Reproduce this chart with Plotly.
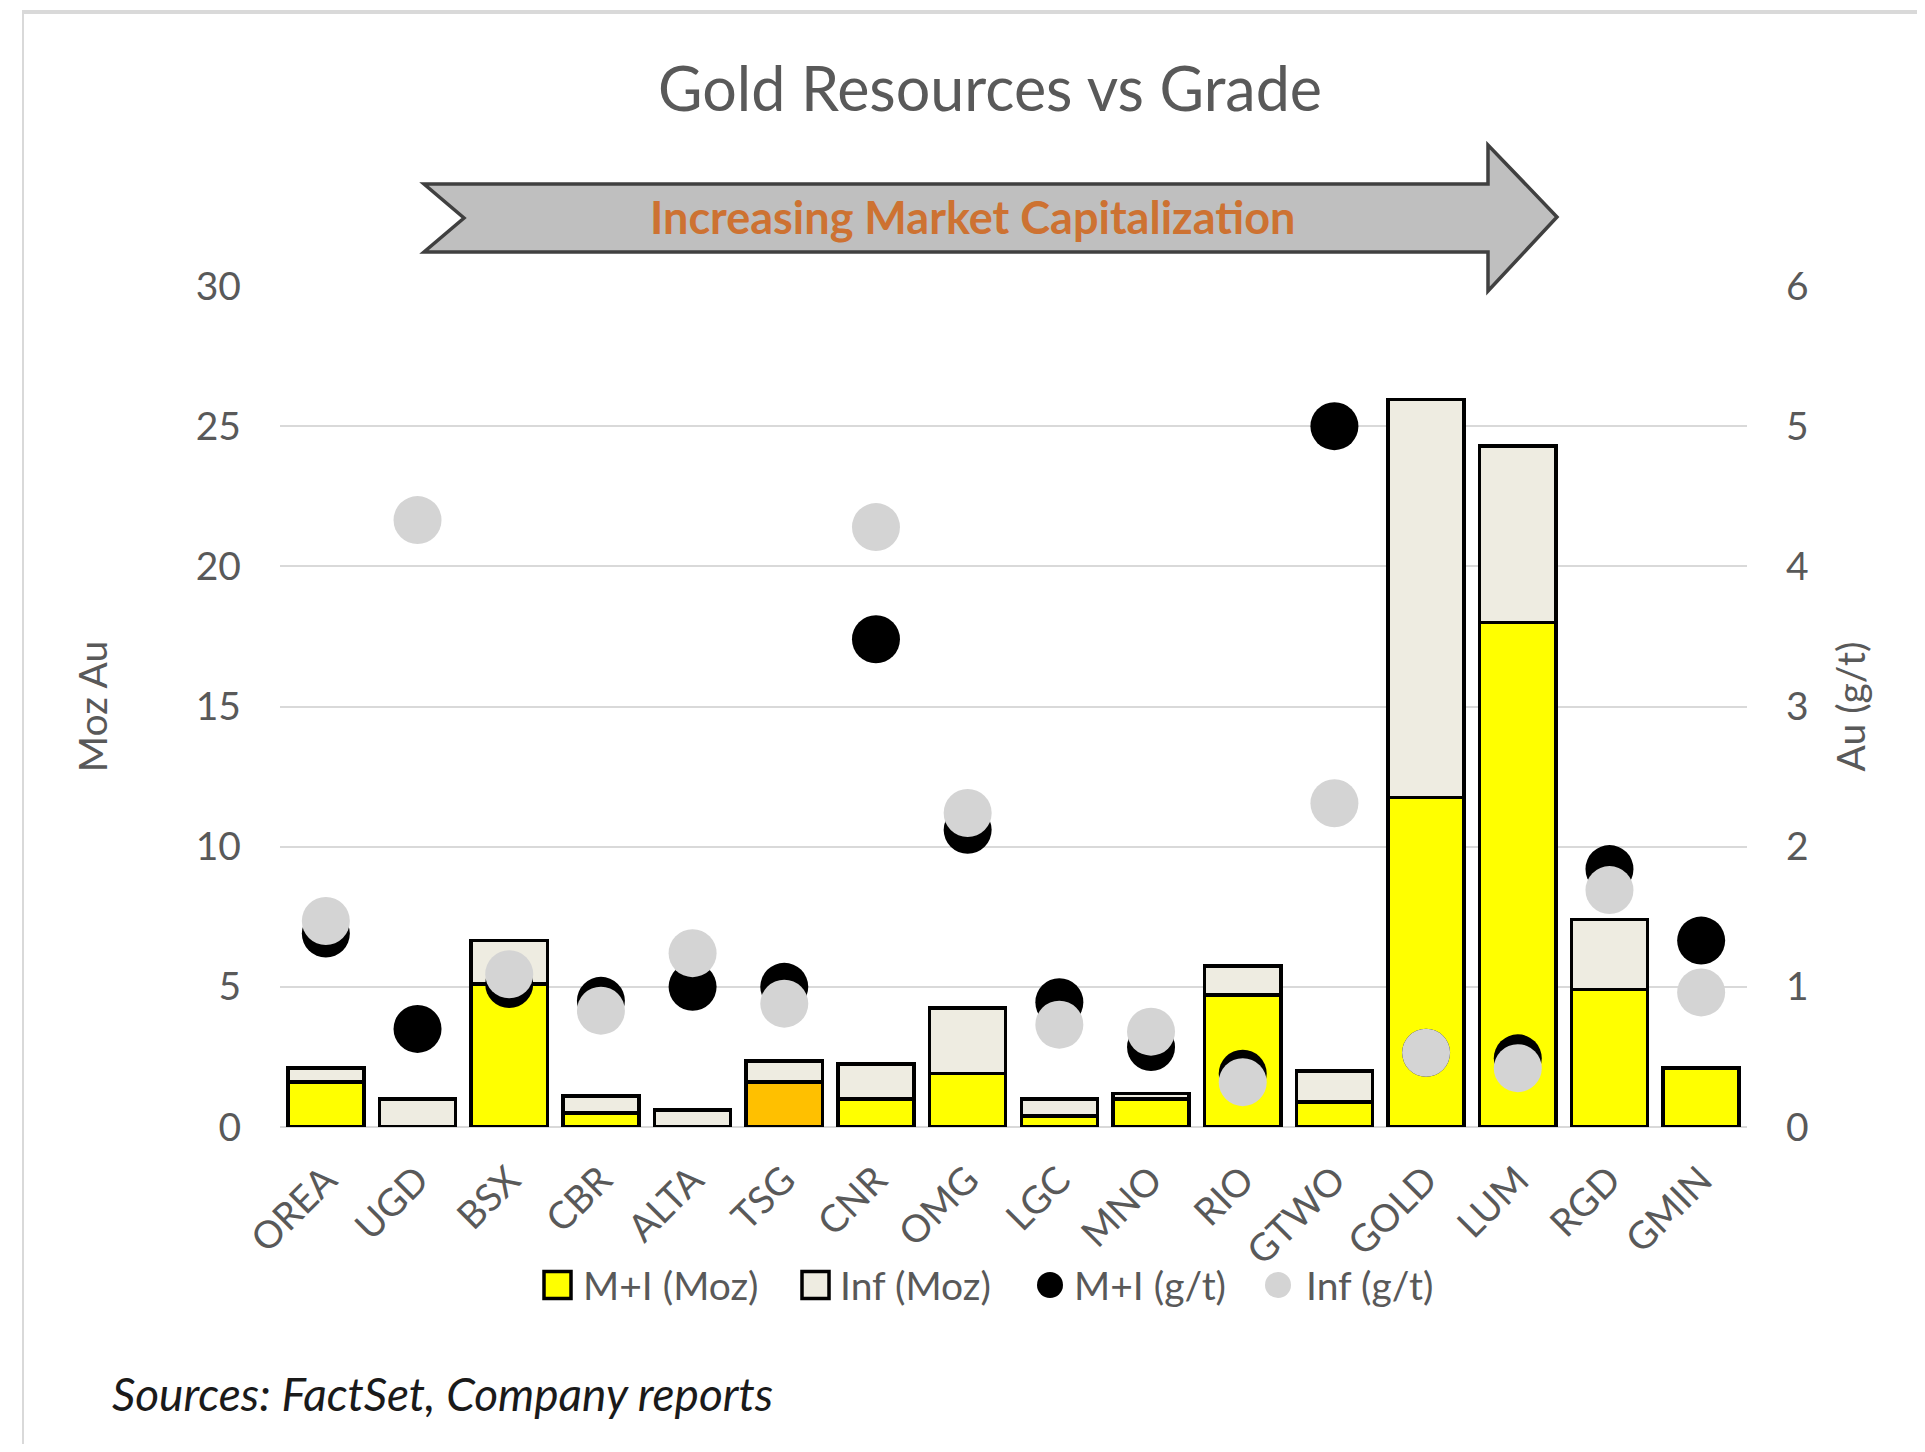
import plotly.graph_objects as go

companies = ["OREA", "UGD", "BSX", "CBR", "ALTA", "TSG", "CNR", "OMG",
             "LGC", "MNO", "RIO", "GTWO", "GOLD", "LUM", "RGD", "GMIN"]
mi_moz = [1.6, 0.0, 5.1, 0.5, 0.0, 1.6, 1.0, 1.9, 0.4, 1.0, 4.7, 0.9, 11.75, 18.0, 4.9, 2.1]
inf_moz = [0.5, 1.0, 1.55, 0.6, 0.6, 0.75, 1.25, 2.35, 0.6, 0.2, 1.05, 1.1, 14.2, 6.3, 2.5, 0.0]
mi_gt = [1.38, 0.70, 1.02, 0.90, 1.00, 1.00, 3.48, 2.12, 0.89, 0.57, 0.38, 5.00, 0.53, 0.49, 1.84, 1.33]
inf_gt = [1.47, 4.33, 1.09, 0.83, 1.24, 0.88, 4.28, 2.24, 0.73, 0.68, 0.32, 2.31, 0.53, 0.42, 1.69, 0.96]
left_ticks = [0, 5, 10, 15, 20, 25, 30]
right_ticks = [0, 1, 2, 3, 4, 5, 6]
legend_names = ["M+I (Moz)", "Inf (Moz)", "M+I (g/t)", "Inf (g/t)"]

OFF = 8  # page body margin
W, H = 1925 - 2 * OFF, 1452 - 2 * OFF
# plot area in screen pixels
L, R, T, B = 280, 1747, 286, 1127
FONT = "Lato"
GREY = "#595959"
YELLOW = "#FFFF00"
INFC = "#EEECE1"
DOTGREY = "#D4D4D4"

def px(x):
    return (x - L) / (R - L)

def py(y):
    return (B - y) / (B - T)

mi_colors = ["#FFC000" if c == "TSG" else YELLOW for c in companies]

fig = go.Figure()
fig.add_trace(go.Bar(x=companies, y=mi_moz, name=legend_names[0],
                     marker=dict(color=mi_colors, line=dict(color="#000000", width=3.5))))
fig.add_trace(go.Bar(x=companies, y=inf_moz, name=legend_names[1],
                     marker=dict(color=INFC, line=dict(color="#000000", width=3.5))))
fig.add_trace(go.Scatter(x=companies, y=mi_gt, name=legend_names[2], mode="markers", yaxis="y2",
                         marker=dict(color="#000000", size=48)))
fig.add_trace(go.Scatter(x=companies, y=inf_gt, name=legend_names[3], mode="markers", yaxis="y2",
                         marker=dict(color=DOTGREY, size=48)))

arrow_pts = [(424, 184), (1488, 184), (1488, 145), (1557, 217), (1488, 291),
             (1488, 252), (424, 252), (464, 218)]
path = "M " + " L ".join(f"{px(x):.5f},{py(y):.5f}" for x, y in arrow_pts) + " Z"

shapes = [
    dict(type="path", xref="paper", yref="paper", path=path,
         fillcolor="#BFBFBF", line=dict(color="#404040", width=3.5), layer="above"),
    dict(type="line", xref="paper", yref="paper", x0=px(22), x1=px(1925), y0=py(12), y1=py(12),
         line=dict(color="#D9D9D9", width=4)),
    dict(type="line", xref="paper", yref="paper", x0=px(23), x1=px(23), y0=py(11), y1=py(1452),
         line=dict(color="#D9D9D9", width=2)),
]

annotations = [
    dict(text="<b>Increasing Market Capitalization</b>", xref="paper", yref="paper",
         x=px(972), y=py(217), showarrow=False, xanchor="center", yanchor="middle",
         font=dict(family=FONT, size=45, color="#CD7232")),
    dict(text="<i>Sources: FactSet, Company reports</i>", xref="paper", yref="paper",
         x=px(110), y=py(1393), showarrow=False, xanchor="left", yanchor="middle",
         font=dict(family=FONT, size=46, color="#1A1A1A")),
]

# legend drawn manually (symbols + labels)
LEG_Y = 1285
sym_x = [544, 802, 1037, 1265]
txt_x = [581, 838, 1072, 1304]
S = 27
for i, (sx, tx) in enumerate(zip(sym_x, txt_x)):
    if i < 2:
        shapes.append(dict(type="rect", xref="paper", yref="paper",
                           x0=px(sx), x1=px(sx + S), y0=py(LEG_Y - S / 2), y1=py(LEG_Y + S / 2),
                           fillcolor=[YELLOW, INFC][i], line=dict(color="#000000", width=3.5)))
    else:
        shapes.append(dict(type="circle", xref="paper", yref="paper",
                           x0=px(sx), x1=px(sx + 26), y0=py(LEG_Y - 13), y1=py(LEG_Y + 13),
                           fillcolor=["#000000", DOTGREY][i - 2], line=dict(width=0)))
    annotations.append(dict(text=legend_names[i], xref="paper", yref="paper",
                            x=px(tx), y=py(LEG_Y), showarrow=False, xanchor="left",
                            yanchor="middle", font=dict(family=FONT, size=39, color=GREY)))

fig.update_layout(
    width=W, height=H,
    margin=dict(l=L - OFF, r=W - (R - OFF), t=T - OFF, b=H - (B - OFF), autoexpand=False),
    paper_bgcolor="white", plot_bgcolor="white",
    barmode="stack", bargap=0.17,
    title=dict(text="Gold Resources vs Grade", x=px(990), xanchor="center",
               y=1 - (90 - OFF) / H, yanchor="middle", xref="paper",
               font=dict(family=FONT, size=61, color=GREY)),
    xaxis=dict(range=[-0.5, len(companies) - 0.5], tickangle=-45,
               tickfont=dict(family=FONT, size=38, color=GREY),
               showgrid=False, showline=False, ticks="", ticklabelstandoff=22),
    yaxis=dict(range=[0, 30], tickvals=left_ticks, showgrid=True, gridcolor="#D9D9D9",
               gridwidth=2, zeroline=True, zerolinecolor="#D9D9D9", zerolinewidth=2,
               tickfont=dict(family=FONT, size=39, color=GREY), ticklabelstandoff=38,
               title=dict(text="Moz Au", font=dict(family=FONT, size=39, color=GREY), standoff=76)),
    yaxis2=dict(range=[0, 6], tickvals=right_ticks, overlaying="y", side="right",
                showgrid=False, zeroline=False,
                tickfont=dict(family=FONT, size=39, color=GREY), ticklabelstandoff=38,
                title=dict(text="Au (g/t)", font=dict(family=FONT, size=39, color=GREY), standoff=30)),
    showlegend=False,
    shapes=shapes, annotations=annotations,
)

fig.write_html("out.html")
